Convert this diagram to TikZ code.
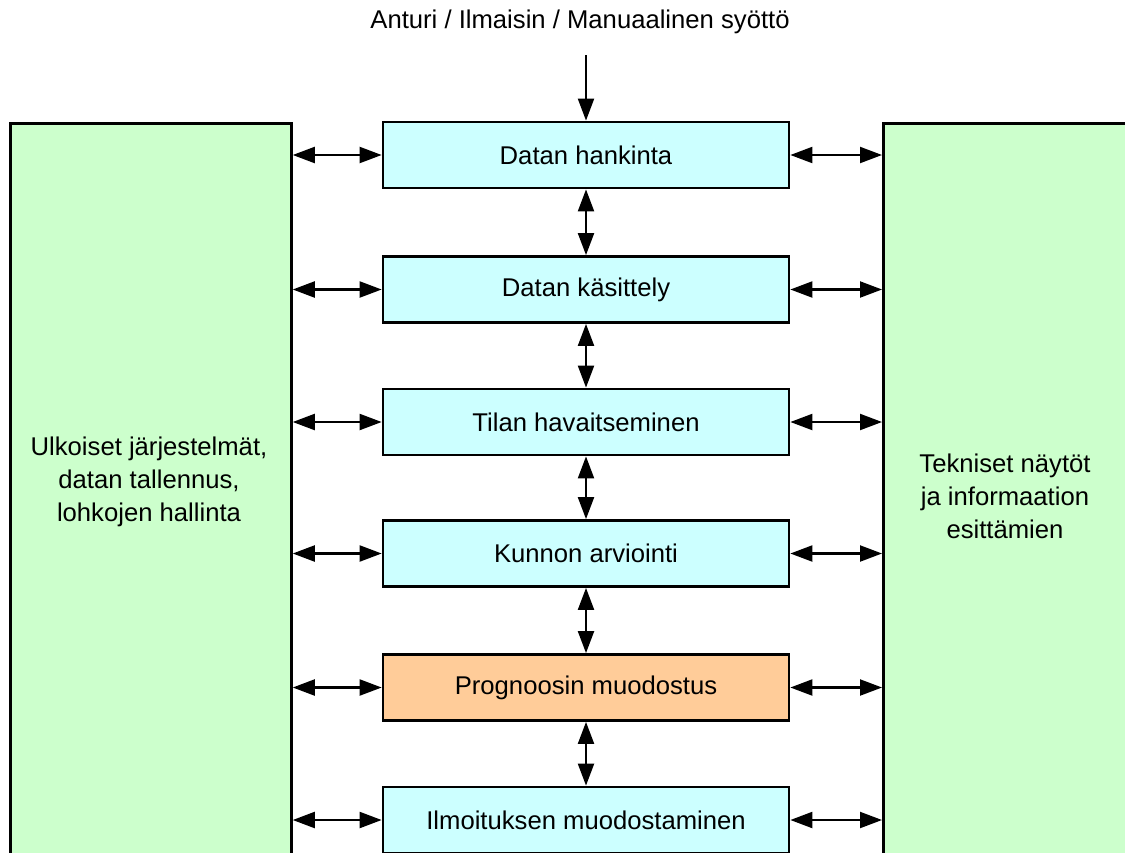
\documentclass[tikz,border=0pt]{standalone}
\usepackage{fontspec}
\setmainfont{Liberation Sans}
\usetikzlibrary{arrows.meta}
\definecolor{stepfill}{HTML}{CCFFFF}
\definecolor{sidefill}{HTML}{CCFFCC}
\definecolor{progfill}{HTML}{FFCC99}

\begin{document}
\begin{tikzpicture}[x=0.02cm,y=-0.02cm]
          \tikzstyle{step box}=[draw,line width=1.6pt,fill=stepfill,minimum width=8.12cm,minimum height=1.32cm,inner sep=0pt,font=\fontsize{14.6}{18}\selectfont]
          \tikzstyle{side box}=[draw,line width=1.6pt,fill=sidefill,inner sep=0pt,anchor=north west]
          \tikzstyle{side text}=[align=center,font=\fontsize{14.6}{18.8}\selectfont]
          \tikzstyle{both}=[{Triangle[length=0.44cm,width=0.32cm]}-{Triangle[length=0.44cm,width=0.32cm]},line width=1.2pt]
          \tikzstyle{into}=[-{Triangle[length=0.44cm,width=0.32cm]},line width=1.2pt]

          \useasboundingbox (0,0) rectangle (1125,852);
          \clip (0,0) rectangle (1125,852);

          % the two side columns run past the bottom edge
          \node (ext) at (9,122) [side box,minimum width=5.62cm,minimum height=16cm] {};
          \node (disp) at (882,122) [side box,minimum width=5.4cm,minimum height=16cm] {};
          \node (extText) at (149,482) [side text] {Ulkoiset järjestelmät,\\datan tallennus,\\lohkojen hallinta};
          \node (dispText) at (1005,496) [side text] {Tekniset näytöt\\ja informaation\\esittämien};

          \node (in) at (580,22) [font=\fontsize{14.6}{18}\selectfont] {Anturi / Ilmaisin / Manuaalinen syöttö};
          \coordinate (inTop) at (586,55);

          \node (B1) at (586,155) [step box] {Datan hankinta};
          \node (B2) at (586,289.5) [step box] {Datan käsittely};
          \node (B3) at (586,422) [step box] {Tilan havaitseminen};
          \node (B4) at (586,553.5) [step box] {Kunnon arviointi};
          \node (B5) at (586,687.5) [step box,fill=progfill] {Prognoosin muodostus};
          \node (B6) at (586,820) [step box] {Ilmoituksen muodostaminen};

          \draw[into] (inTop) -- (B1.north);

          \draw[both] (B1.south) -- (B2.north);
          \draw[both] (B2.south) -- (B3.north);
          \draw[both] (B3.south) -- (B4.north);
          \draw[both] (B4.south) -- (B5.north);
          \draw[both] (B5.south) -- (B6.north);

          \foreach \b in {B1,B2,B3,B4,B5,B6} {
            \draw[both] (\b.west -| ext.east) -- (\b.west);
            \draw[both] (\b.east) -- (\b.east -| disp.west);
          }
        \end{tikzpicture}
\end{document}
